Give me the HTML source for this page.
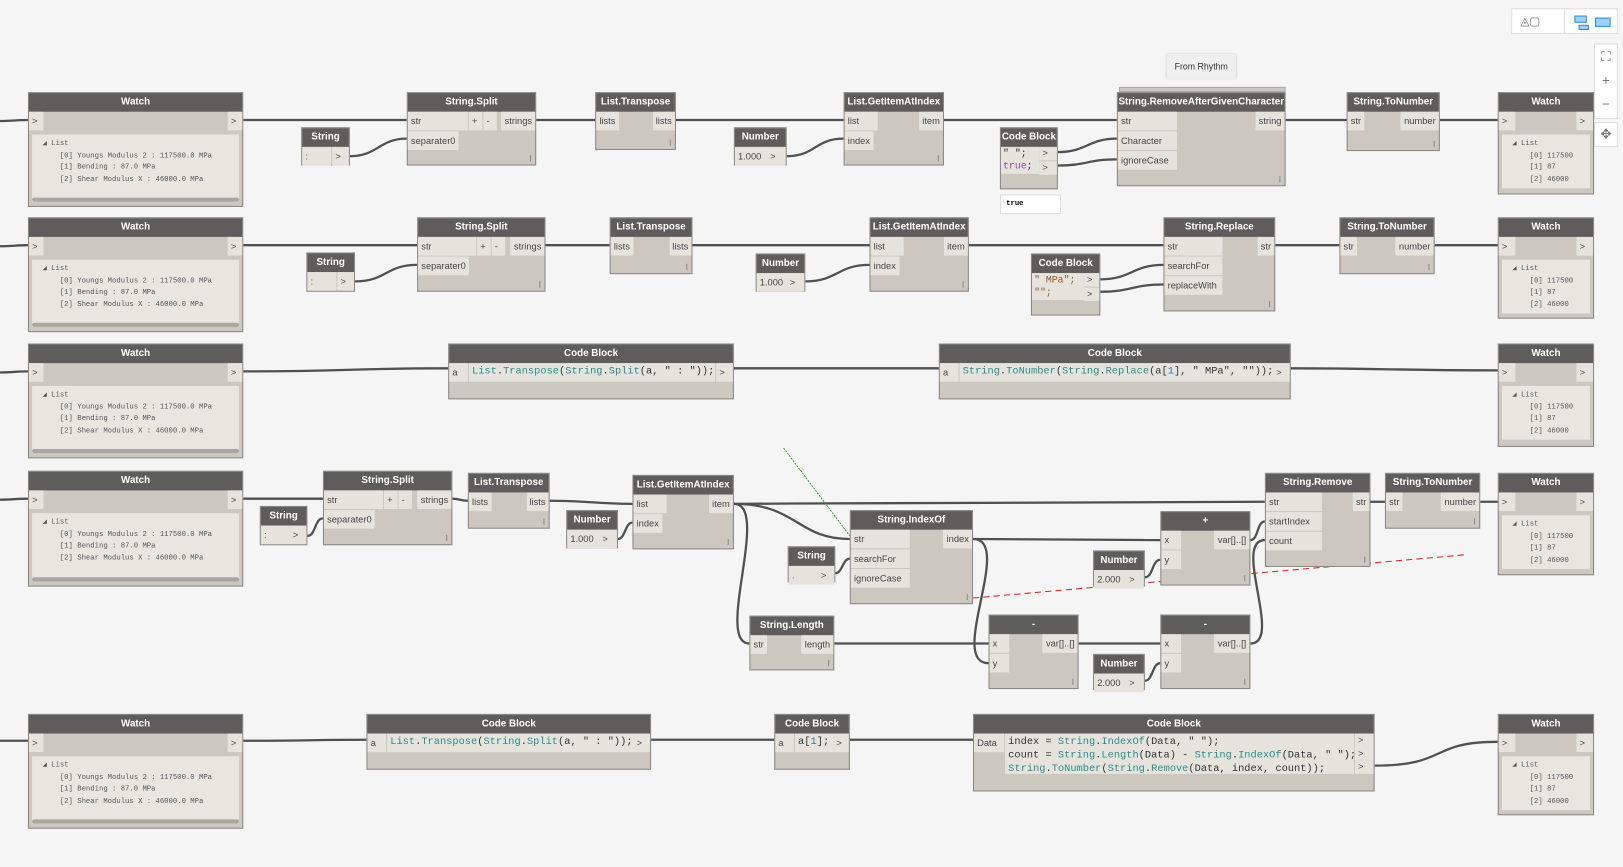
<!DOCTYPE html>
<html><head><meta charset="utf-8"><style>
html,body{margin:0;padding:0;background:#f5f5f5;overflow:hidden}
#s{position:absolute;left:0;top:0;width:1568px;height:838px;transform-origin:0 0;transform:scale(1.0351,1.0346);font-family:"Liberation Sans",sans-serif}
.n{position:absolute;background:#ccc8c0;border:1px solid #8a8884;box-sizing:border-box}
.h{height:18px;background:#5f5d5b;color:#fff;font:bold 9.5px/18px "Liberation Sans",sans-serif;text-align:center;white-space:nowrap;overflow:hidden}
.p{position:absolute;background:#e6e3dd;font:9px/18px "Liberation Sans",sans-serif;color:#444;padding:0 3px;height:18px;box-sizing:border-box;white-space:nowrap}
.r{right:0}
.g{position:absolute;right:4px;bottom:3px;width:1px;height:6px;background:#888}
.wc{position:absolute;background:#e9e6e0;font:7px/11.5px "Liberation Mono",monospace;color:#555;white-space:pre;padding:4px 0 0 10px;box-sizing:border-box}
.sb{position:absolute;left:3px;right:3px;bottom:4px;height:4px;background:#aaa7a2;border-radius:2px}
.cd{position:absolute;background:#e6e3dd;font:10px/13px "Liberation Mono",monospace;color:#333;white-space:pre;padding:2px 3px;box-sizing:border-box}
.t{color:#2a8c8a}.k{color:#8a4fa6}.m{color:#2b6fb3}
</style></head><body><div id="s">
<svg width="1568" height="838" style="position:absolute;left:0;top:0" fill="none" stroke="#505050" stroke-width="2.2">
<!-- row1 -->
<path d="M0 117 C10 117 17 116 27 116"/><path d="M235 116 L393 116"/><path d="M338 151 C365 151 366 134 393 134"/><path d="M518 116 L575 116"/><path d="M653 116 L815 116"/><path d="M760 151 C788 151 787 134 815 134"/><path d="M912 116 L1079 116"/><path d="M1022 147 C1050 147 1051 134 1079 134"/><path d="M1022 160 C1050 160 1051 154 1079 154"/><path d="M1242 116 L1301 116"/><path d="M1391 116 L1447 116"/>
<!-- row2 -->
<path d="M0 238 C10 238 17 237 27 237"/><path d="M235 237 L403 237"/><path d="M343 272 C373 272 373 256 403 256"/><path d="M527 237 L589 237"/><path d="M669 237 L840 237"/><path d="M778 272 C809 272 809 256 840 256"/><path d="M936 237 L1124 237"/><path d="M1063 270 C1093 270 1094 256 1124 256"/><path d="M1063 282 C1093 282 1094 275 1124 275"/><path d="M1232 237 L1294 237"/><path d="M1386 237 L1447 237"/>
<!-- row3 -->
<path d="M0 360 C10 360 17 359 27 359"/><path d="M235 359 C330 359 340 356 433 356"/><path d="M709 356 L907 356"/><path d="M1247 356 C1340 356 1350 358 1447 358"/>
<!-- row4 -->
<path d="M0 483 C10 483 17 482 27 482"/><path d="M235 482 L312 482"/><path d="M297 518 C305 518 304 501 312 501"/><path d="M437 482 C444 482 445 484 452 484"/><path d="M531 484 C570 484 572 487 611 487"/><path d="M597 521 C604 521 604 505 611 505"/>
<path d="M709 487 C900 486 1100 485 1222 485"/><path d="M709 487 C770 487 770 521 821 521"/><path d="M709 487 C745 487 690 622 724 622"/><path d="M807 554 C814 554 814 540 821 540"/><path d="M940 521 L1121 522"/><path d="M940 521 C980 521 915 641 955 641"/><path d="M806 622 L955 622"/><path d="M1106 558 C1114 558 1113 541 1121 541"/><path d="M1042 622 L1121 622"/><path d="M1106 658 C1114 658 1113 641 1121 641"/><path d="M1208 522 C1216 522 1214 504 1222 504"/><path d="M1208 622 C1240 622 1190 522 1222 522"/><path d="M1324 485 L1338 485"/><path d="M1430 485 L1447 485"/>
<!-- row5 -->
<path d="M0 716 C10 716 17 716 27 716"/><path d="M235 716 C300 716 300 715 354 715"/><path d="M629 715 L748 715"/><path d="M821 715 L940 715"/><path d="M1328 740 C1400 740 1380 717 1447 717"/>
<path d="M757 433 L821 518" stroke="#1a8a1a" stroke-width="0.8" stroke-dasharray="2 1"/>
<path d="M940 578 L1418 536" stroke="#e02020" stroke-width="1" stroke-dasharray="6 4"/>
</svg>

<!-- toolbar -->
<div style="position:absolute;left:1460px;top:8px;width:103px;height:25px;background:#fff;border:1px solid #ddd;box-sizing:border-box"><div style="position:absolute;left:8px;top:5px;color:#666;font-size:11px">◬▢</div><div style="position:absolute;left:50px;top:0;width:1px;height:23px;background:#ddd"></div><div style="position:absolute;left:60px;top:6px;width:10px;height:5px;border:1px solid #2a8ee0;background:#9fd0f5"></div><div style="position:absolute;left:80px;top:8px;width:13px;height:7px;border:1px solid #2a8ee0;background:#9fd0f5"></div><div style="position:absolute;left:64px;top:15px;width:8px;height:3px;border:1px solid #2a8ee0;background:#9fd0f5"></div></div>
<div style="position:absolute;left:1540px;top:42px;width:23px;height:73px;background:#fff;border:1px solid #ddd;box-sizing:border-box;color:#777;font-size:13px;text-align:center;line-height:23px">⛶<br>+<br>−</div>
<div style="position:absolute;left:1540px;top:118px;width:23px;height:24px;background:#fff;border:1px solid #ddd;box-sizing:border-box;color:#777;font-size:13px;text-align:center;line-height:22px">✥</div>
<div style="position:absolute;left:1127px;top:52px;width:67px;height:24px;background:#efefef;box-shadow:0 0 2px #bbb;font:8.5px/24px 'Liberation Sans',sans-serif;color:#333;text-align:center">From Rhythm</div>
<div style="position:absolute;left:1081px;top:84px;width:159px;height:3px;background:#ccc8c0;border:1px solid #aaa"></div>

<!-- ROW 1 -->
<div class="n" style="left:27px;top:89px;width:208px;height:111px"><div class="h">Watch</div><div class="p" style="left:0;top:18px;width:14px">&gt;</div><div class="p r" style="top:18px;width:14px">&gt;</div><div class="wc" style="left:3px;top:40px;width:200px;height:65px">◢ List
    [0] Youngs Modulus 2 : 117500.0 MPa
    [1] Bending : 87.0 MPa
    [2] Shear Modulus X : 46000.0 MPa</div><div class="sb"></div></div>
<div class="n" style="left:291px;top:123px;width:47px;height:37px"><div class="h">String</div><div class="p" style="left:0;top:18px;width:28px">:</div><div class="p r" style="top:18px;width:16px">&gt;</div></div>
<div class="n" style="left:393px;top:89px;width:125px;height:71px"><div class="h">String.Split</div><div class="p" style="left:0;top:18px;width:58px">str</div><div class="p" style="left:0;top:37px">separater0</div><div class="p" style="left:59px;top:18px;width:13px">+</div><div class="p" style="left:73px;top:18px;width:13px">-</div><div class="p r" style="top:18px">strings</div><div class="g"></div></div>
<div class="n" style="left:575px;top:89px;width:78px;height:56px"><div class="h">List.Transpose</div><div class="p" style="left:0;top:18px">lists</div><div class="p r" style="top:18px">lists</div><div class="g"></div></div>
<div class="n" style="left:709px;top:123px;width:51px;height:37px"><div class="h">Number</div><div class="p" style="left:0;top:18px;width:32px">1.000</div><div class="p r" style="top:18px;width:18px">&gt;</div></div>
<div class="n" style="left:815px;top:89px;width:97px;height:71px"><div class="h">List.GetItemAtIndex</div><div class="p" style="left:0;top:18px;width:32px">list</div><div class="p" style="left:0;top:37px">index</div><div class="p r" style="top:18px">item</div><div class="g"></div></div>
<div class="n" style="left:966px;top:123px;width:56px;height:60px"><div class="h">Code Block</div><div class="cd" style="left:0;top:18px;width:37px;height:26px;font-size:9.5px;line-height:12px;padding:1px 2px">" ";
<span class="k">true</span>;</div><div class="p r" style="top:18px;width:17px;height:13px;line-height:13px">&gt;</div><div class="p r" style="top:32px;width:17px;height:13px;line-height:13px">&gt;</div></div>
<div style="position:absolute;left:966px;top:188px;width:59px;height:19px;background:#fff;border:1px solid #ddd;box-sizing:border-box;font:bold 7px/17px 'Liberation Mono',monospace;padding-left:5px">true</div>
<div class="n" style="left:1079px;top:89px;width:163px;height:91px"><div class="h">String.RemoveAfterGivenCharacter</div><div class="p" style="left:0;top:18px;width:57px">str</div><div class="p" style="left:0;top:37px;width:57px">Character</div><div class="p" style="left:0;top:56px;width:57px">ignoreCase</div><div class="p r" style="top:18px">string</div><div class="g"></div></div>
<div class="n" style="left:1301px;top:89px;width:90px;height:57px"><div class="h">String.ToNumber</div><div class="p" style="left:0;top:18px">str</div><div class="p r" style="top:18px">number</div><div class="g"></div></div>
<div class="n" style="left:1447px;top:89px;width:93px;height:99px"><div class="h">Watch</div><div class="p" style="left:0;top:18px;width:16px">&gt;</div><div class="p r" style="top:18px;width:16px">&gt;</div><div class="wc" style="left:3px;top:40px;width:85px;height:52px">◢ List
    [0] 117500
    [1] 87
    [2] 46000</div></div>

<!-- ROW 2 -->
<div class="n" style="left:27px;top:210px;width:208px;height:111px"><div class="h">Watch</div><div class="p" style="left:0;top:18px;width:14px">&gt;</div><div class="p r" style="top:18px;width:14px">&gt;</div><div class="wc" style="left:3px;top:40px;width:200px;height:65px">◢ List
    [0] Youngs Modulus 2 : 117500.0 MPa
    [1] Bending : 87.0 MPa
    [2] Shear Modulus X : 46000.0 MPa</div><div class="sb"></div></div>
<div class="n" style="left:296px;top:244px;width:47px;height:38px"><div class="h">String</div><div class="p" style="left:0;top:18px;width:28px">:</div><div class="p r" style="top:18px;width:16px">&gt;</div></div>
<div class="n" style="left:403px;top:210px;width:124px;height:72px"><div class="h">String.Split</div><div class="p" style="left:0;top:18px;width:56px">str</div><div class="p" style="left:0;top:37px">separater0</div><div class="p" style="left:57px;top:18px;width:13px">+</div><div class="p" style="left:71px;top:18px;width:13px">-</div><div class="p r" style="top:18px">strings</div><div class="g"></div></div>
<div class="n" style="left:589px;top:210px;width:80px;height:55px"><div class="h">List.Transpose</div><div class="p" style="left:0;top:18px">lists</div><div class="p r" style="top:18px">lists</div><div class="g"></div></div>
<div class="n" style="left:730px;top:245px;width:48px;height:37px"><div class="h">Number</div><div class="p" style="left:0;top:18px;width:30px">1.000</div><div class="p r" style="top:18px;width:17px">&gt;</div></div>
<div class="n" style="left:840px;top:210px;width:96px;height:72px"><div class="h">List.GetItemAtIndex</div><div class="p" style="left:0;top:18px;width:32px">list</div><div class="p" style="left:0;top:37px">index</div><div class="p r" style="top:18px">item</div><div class="g"></div></div>
<div class="n" style="left:996px;top:245px;width:67px;height:60px"><div class="h">Code Block</div><div class="cd" style="left:0;top:18px;width:50px;height:26px;font-size:9.5px;line-height:12px;padding:1px 2px;color:#8a5a2a">" MPa";
"";</div><div class="p r" style="top:18px;width:15px;height:13px;line-height:13px">&gt;</div><div class="p r" style="top:32px;width:15px;height:13px;line-height:13px">&gt;</div></div>
<div class="n" style="left:1124px;top:210px;width:108px;height:91px"><div class="h">String.Replace</div><div class="p" style="left:0;top:18px;width:56px">str</div><div class="p" style="left:0;top:37px;width:56px">searchFor</div><div class="p" style="left:0;top:56px;width:56px">replaceWith</div><div class="p r" style="top:18px">str</div><div class="g"></div></div>
<div class="n" style="left:1294px;top:210px;width:92px;height:55px"><div class="h">String.ToNumber</div><div class="p" style="left:0;top:18px">str</div><div class="p r" style="top:18px">number</div><div class="g"></div></div>
<div class="n" style="left:1447px;top:210px;width:93px;height:98px"><div class="h">Watch</div><div class="p" style="left:0;top:18px;width:16px">&gt;</div><div class="p r" style="top:18px;width:16px">&gt;</div><div class="wc" style="left:3px;top:40px;width:85px;height:52px">◢ List
    [0] 117500
    [1] 87
    [2] 46000</div></div>

<!-- ROW 3 -->
<div class="n" style="left:27px;top:332px;width:208px;height:111px"><div class="h">Watch</div><div class="p" style="left:0;top:18px;width:14px">&gt;</div><div class="p r" style="top:18px;width:14px">&gt;</div><div class="wc" style="left:3px;top:40px;width:200px;height:65px">◢ List
    [0] Youngs Modulus 2 : 117500.0 MPa
    [1] Bending : 87.0 MPa
    [2] Shear Modulus X : 46000.0 MPa</div><div class="sb"></div></div>
<div class="n" style="left:433px;top:332px;width:276px;height:54px"><div class="h">Code Block</div><div class="p" style="left:0;top:18px;width:18px">a</div><div class="cd" style="left:19px;top:18px;width:238px;height:18px"><span class="t">List</span>.<span class="t">Transpose</span>(<span class="t">String</span>.<span class="t">Split</span>(a, " : "));</div><div class="p r" style="top:18px;width:16px">&gt;</div></div>
<div class="n" style="left:907px;top:332px;width:340px;height:54px"><div class="h">Code Block</div><div class="p" style="left:0;top:18px;width:18px">a</div><div class="cd" style="left:19px;top:18px;width:303px;height:18px"><span class="t">String</span>.<span class="t">ToNumber</span>(<span class="t">String</span>.<span class="t">Replace</span>(a[<span class="m">1</span>], " MPa", ""));</div><div class="p r" style="top:18px;width:16px">&gt;</div></div>
<div class="n" style="left:1447px;top:332px;width:93px;height:100px"><div class="h">Watch</div><div class="p" style="left:0;top:18px;width:16px">&gt;</div><div class="p r" style="top:18px;width:16px">&gt;</div><div class="wc" style="left:3px;top:40px;width:85px;height:52px">◢ List
    [0] 117500
    [1] 87
    [2] 46000</div></div>

<!-- ROW 4 -->
<div class="n" style="left:27px;top:455px;width:208px;height:112px"><div class="h">Watch</div><div class="p" style="left:0;top:18px;width:14px">&gt;</div><div class="p r" style="top:18px;width:14px">&gt;</div><div class="wc" style="left:3px;top:40px;width:200px;height:65px">◢ List
    [0] Youngs Modulus 2 : 117500.0 MPa
    [1] Bending : 87.0 MPa
    [2] Shear Modulus X : 46000.0 MPa</div><div class="sb"></div></div>
<div class="n" style="left:251px;top:489px;width:46px;height:38px"><div class="h">String</div><div class="p" style="left:0;top:18px;width:28px">:</div><div class="p r" style="top:18px;width:16px">&gt;</div></div>
<div class="n" style="left:312px;top:455px;width:125px;height:72px"><div class="h">String.Split</div><div class="p" style="left:0;top:18px;width:57px">str</div><div class="p" style="left:58px;top:18px;width:13px">+</div><div class="p" style="left:72px;top:18px;width:13px">-</div><div class="p" style="left:0;top:37px">separater0</div><div class="p r" style="top:18px">strings</div><div class="g"></div></div>
<div class="n" style="left:452px;top:457px;width:79px;height:54px"><div class="h">List.Transpose</div><div class="p" style="left:0;top:18px">lists</div><div class="p r" style="top:18px">lists</div><div class="g"></div></div>
<div class="n" style="left:547px;top:493px;width:50px;height:37px"><div class="h">Number</div><div class="p" style="left:0;top:18px;width:32px">1.000</div><div class="p r" style="top:18px;width:17px">&gt;</div></div>
<div class="n" style="left:611px;top:459px;width:98px;height:72px"><div class="h">List.GetItemAtIndex</div><div class="p" style="left:0;top:18px;width:32px">list</div><div class="p" style="left:0;top:37px">index</div><div class="p r" style="top:18px">item</div><div class="g"></div></div>
<div class="n" style="left:761px;top:528px;width:46px;height:35px"><div class="h">String</div><div class="p" style="left:0;top:18px;width:28px">.</div><div class="p r" style="top:18px;width:16px">&gt;</div></div>
<div class="n" style="left:821px;top:493px;width:119px;height:91px"><div class="h">String.IndexOf</div><div class="p" style="left:0;top:18px;width:57px">str</div><div class="p" style="left:0;top:37px;width:57px">searchFor</div><div class="p" style="left:0;top:56px;width:57px">ignoreCase</div><div class="p r" style="top:18px">index</div><div class="g"></div></div>
<div class="n" style="left:724px;top:595px;width:82px;height:53px"><div class="h">String.Length</div><div class="p" style="left:0;top:18px">str</div><div class="p r" style="top:18px">length</div><div class="g"></div></div>
<div class="n" style="left:955px;top:594px;width:87px;height:72px"><div class="h">-</div><div class="p" style="left:0;top:18px;width:19px">x</div><div class="p" style="left:0;top:37px;width:19px">y</div><div class="p r" style="top:18px">var[]..[]</div><div class="g"></div></div>
<div class="n" style="left:1056px;top:532px;width:50px;height:35px"><div class="h">Number</div><div class="p" style="left:0;top:18px;width:32px">2.000</div><div class="p r" style="top:18px;width:17px">&gt;</div></div>
<div class="n" style="left:1056px;top:632px;width:50px;height:35px"><div class="h">Number</div><div class="p" style="left:0;top:18px;width:32px">2.000</div><div class="p r" style="top:18px;width:17px">&gt;</div></div>
<div class="n" style="left:1121px;top:494px;width:87px;height:72px"><div class="h">+</div><div class="p" style="left:0;top:18px;width:19px">x</div><div class="p" style="left:0;top:37px;width:19px">y</div><div class="p r" style="top:18px">var[]..[]</div><div class="g"></div></div>
<div class="n" style="left:1121px;top:594px;width:87px;height:72px"><div class="h">-</div><div class="p" style="left:0;top:18px;width:19px">x</div><div class="p" style="left:0;top:37px;width:19px">y</div><div class="p r" style="top:18px">var[]..[]</div><div class="g"></div></div>
<div class="n" style="left:1222px;top:457px;width:102px;height:91px"><div class="h">String.Remove</div><div class="p" style="left:0;top:18px;width:54px">str</div><div class="p" style="left:0;top:37px;width:54px">startIndex</div><div class="p" style="left:0;top:56px;width:54px">count</div><div class="p r" style="top:18px">str</div><div class="g"></div></div>
<div class="n" style="left:1338px;top:457px;width:92px;height:54px"><div class="h">String.ToNumber</div><div class="p" style="left:0;top:18px">str</div><div class="p r" style="top:18px">number</div><div class="g"></div></div>
<div class="n" style="left:1447px;top:457px;width:93px;height:99px"><div class="h">Watch</div><div class="p" style="left:0;top:18px;width:16px">&gt;</div><div class="p r" style="top:18px;width:16px">&gt;</div><div class="wc" style="left:3px;top:40px;width:85px;height:52px">◢ List
    [0] 117500
    [1] 87
    [2] 46000</div></div>

<!-- ROW 5 -->
<div class="n" style="left:27px;top:690px;width:208px;height:111px"><div class="h">Watch</div><div class="p" style="left:0;top:18px;width:14px">&gt;</div><div class="p r" style="top:18px;width:14px">&gt;</div><div class="wc" style="left:3px;top:40px;width:200px;height:65px">◢ List
    [0] Youngs Modulus 2 : 117500.0 MPa
    [1] Bending : 87.0 MPa
    [2] Shear Modulus X : 46000.0 MPa</div><div class="sb"></div></div>
<div class="n" style="left:354px;top:690px;width:275px;height:54px"><div class="h">Code Block</div><div class="p" style="left:0;top:18px;width:18px">a</div><div class="cd" style="left:19px;top:18px;width:238px;height:18px"><span class="t">List</span>.<span class="t">Transpose</span>(<span class="t">String</span>.<span class="t">Split</span>(a, " : "));</div><div class="p r" style="top:18px;width:16px">&gt;</div></div>
<div class="n" style="left:748px;top:690px;width:73px;height:54px"><div class="h">Code Block</div><div class="p" style="left:0;top:18px;width:18px">a</div><div class="cd" style="left:19px;top:18px;width:37px;height:18px">a[<span class="m">1</span>];</div><div class="p r" style="top:18px;width:15px">&gt;</div></div>
<div class="n" style="left:940px;top:690px;width:388px;height:75px"><div class="h">Code Block</div><div class="p" style="left:0;top:18px;width:29px">Data</div><div class="cd" style="left:30px;top:18px;width:337px;height:39px">index = <span class="t">String</span>.<span class="t">IndexOf</span>(Data, " ");
count = <span class="t">String</span>.<span class="t">Length</span>(Data) - <span class="t">String</span>.<span class="t">IndexOf</span>(Data, " ");
<span class="t">String</span>.<span class="t">ToNumber</span>(<span class="t">String</span>.<span class="t">Remove</span>(Data, index, count));</div><div class="p r" style="top:18px;width:18px;height:39px;line-height:13px">&gt;<br>&gt;<br>&gt;</div></div>
<div class="n" style="left:1447px;top:690px;width:93px;height:98px"><div class="h">Watch</div><div class="p" style="left:0;top:18px;width:16px">&gt;</div><div class="p r" style="top:18px;width:16px">&gt;</div><div class="wc" style="left:3px;top:40px;width:85px;height:52px">◢ List
    [0] 117500
    [1] 87
    [2] 46000</div></div>
</div></body></html>
